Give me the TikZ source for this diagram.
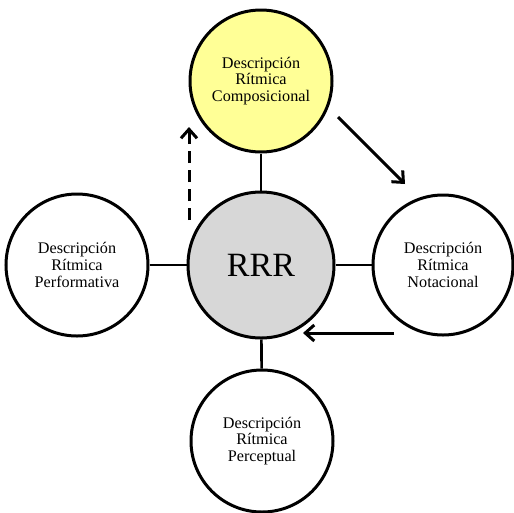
\documentclass[tikz,border=0pt]{standalone}
\usepackage{fontspec}
\setmainfont{Liberation Serif}
\usetikzlibrary{arrows.meta}
\definecolor{softyellow}{RGB}{255,255,150}
\definecolor{hubgray}{RGB}{215,215,215}
\tikzset{
  facet/.style={circle, draw=black, line width=3pt, minimum size=142pt, inner sep=0pt,
    align=center, font=\fontsize{16.2}{16.8}\selectfont, fill=white},
  hub/.style={facet, fill=hubgray, minimum size=146pt, font=\fontsize{34}{36}\selectfont},
  link/.style={line width=2.6pt},
  flow/.style={line width=3pt, -{Straight Barb[length=9pt,width=16pt,line width=3pt]}},
}
\begin{document}
\begin{tikzpicture}[x=1pt,y=-1pt]
  \useasboundingbox (0,0) rectangle (514,512);
  \node[hub] (rrr) at (261,265) {RRR};
  \node[facet, fill=softyellow] (comp) at (261,81) {Descripción\\Rítmica\\Composicional};
  \node[facet] (perf) at (77,265) {Descripción\\Rítmica\\Performativa};
  \node[facet, minimum size=140pt] (nota) at (443,265) {Descripción\\Rítmica\\Notacional};
  \node[facet] (perc) at (262,441) {Descripción\\Rítmica\\Perceptual};
  \draw[link] (comp) -- (rrr);
  \draw[link] (rrr) -- (perc);
  \draw[link] (perf) -- (rrr);
  \draw[link] (rrr) -- (nota);
  \coordinate (dashA) at (189,220);
  \coordinate (dashB) at (189,127);
  \draw[flow, dash pattern=on 12pt off 7pt] (dashA) -- (dashB);
  \coordinate (diagA) at (338,117);
  \coordinate (diagB) at (405,184);
  \draw[flow] (diagA) -- (diagB);
  \coordinate (backA) at (394,333);
  \coordinate (backB) at (303,333);
  \draw[flow] (backA) -- (backB);
\end{tikzpicture}
\end{document}
